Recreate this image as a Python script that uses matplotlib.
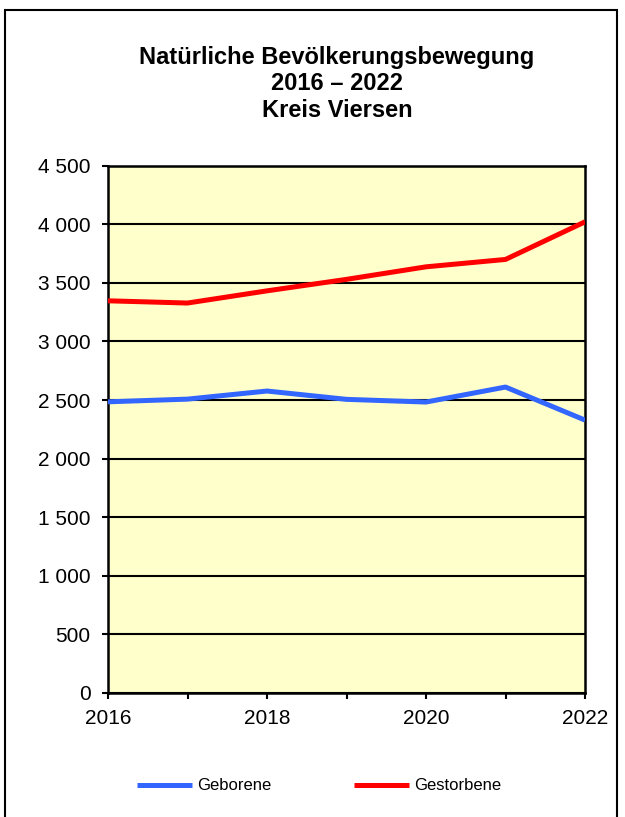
import matplotlib
matplotlib.use("Agg")
from matplotlib import pyplot as plt
import matplotlib.ticker as mticker
from matplotlib.patches import Rectangle

years = [2016, 2017, 2018, 2019, 2020, 2021, 2022]
geborene = [2485, 2508, 2577, 2506, 2483, 2611, 2329]
gestorbene = [3347, 3328, 3432, 3530, 3637, 3700, 4021]
y_ticks = [0, 500, 1000, 1500, 2000, 2500, 3000, 3500, 4000, 4500]
x_labels = [2016, 2018, 2020, 2022]

plt.rcParams["font.family"] = ["Liberation Sans", "DejaVu Sans"]

# SET FIGURE
fig = plt.figure(figsize=(6.25, 8.17), dpi=100)
W, H = 625, 817
ax = fig.add_axes([108 / W, 1 - 693 / H, (585 - 108) / W, (693 - 165.7) / H])
ax.set_facecolor("#FFFFCC")

# OUTER FRAME
fig.patches.append(Rectangle((5 / W, -0.01), 612 / W, 1 - 10 / H + 0.01,
                             transform=fig.transFigure, fill=False,
                             edgecolor="black", linewidth=1.5))

# LINES
ax.plot(years, geborene, color="#3366FF", linewidth=3.6, label="Geborene",
        solid_capstyle="butt", zorder=3)
ax.plot(years, gestorbene, color="#FF0000", linewidth=3.6, label="Gestorbene",
        solid_capstyle="butt", zorder=3)

# AXES
ax.set_xlim(2016, 2022)
ax.set_ylim(0, 4500)
ax.set_yticks(y_ticks)
ax.yaxis.set_major_formatter(
    mticker.FuncFormatter(lambda v, p: f"{int(v):,}".replace(",", " ")))
ax.set_xticks(x_labels)
ax.set_xticks(years, minor=True)
ax.grid(axis="y", color="black", linewidth=1.5, zorder=1)
ax.set_axisbelow(True)
for s in ax.spines.values():
    s.set_linewidth(1.8)
ax.tick_params(axis="y", length=4.5, width=1.5, labelsize=15, pad=8)
ax.tick_params(axis="x", which="both", length=4.5, width=1.5, labelsize=15,
               pad=7)

# TITLE
fig.text(337 / W, 1 - 84 / H,
         "Natürliche Bevölkerungsbewegung\n2016 – 2022\nKreis Viersen",
         ha="center", va="center", fontsize=17, fontweight="bold",
         linespacing=1.2)

# LEGEND
fig.legend(loc="center", bbox_to_anchor=(319 / W, 1 - 786 / H), ncol=2,
           frameon=False, fontsize=12, handlelength=3.3, columnspacing=5.0,
           handletextpad=0.3)

plt.savefig("out.png", dpi=100)
